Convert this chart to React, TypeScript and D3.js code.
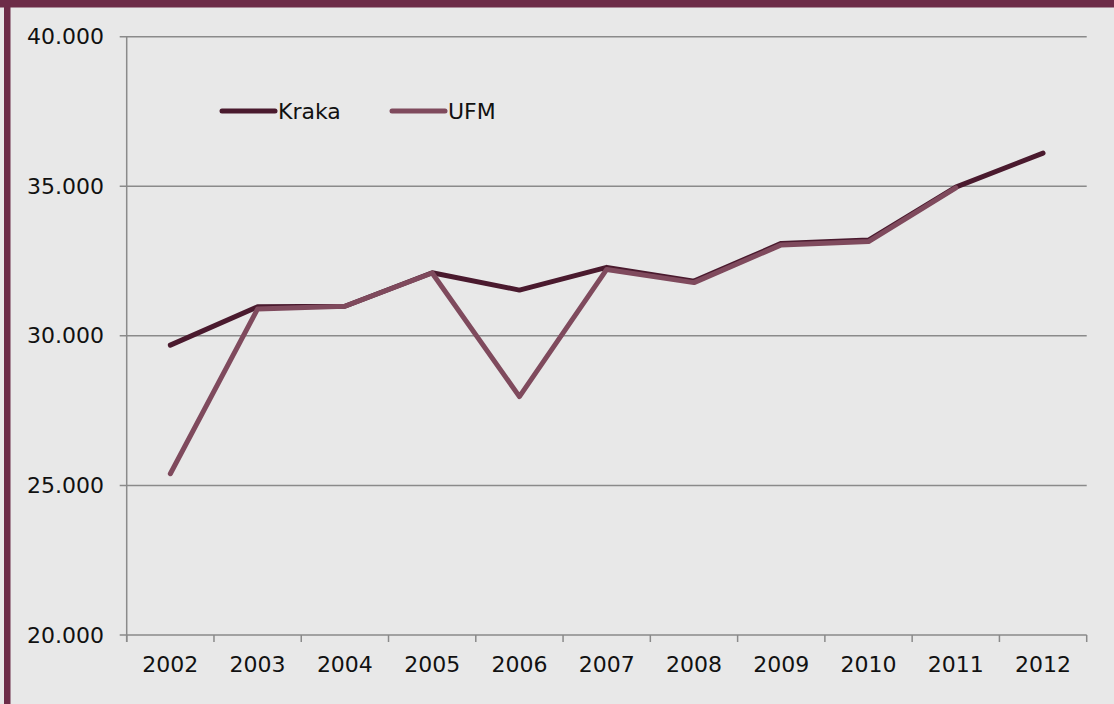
import * as d3 from 'd3';

// ── Data ──────────────────────────────────────────────────────────────────────
const YEARS = ['2002', '2003', '2004', '2005', '2006', '2007', '2008', '2009', '2010', '2011', '2012'];
const KRAKA = [29690, 30970, 30990, 32110, 31530, 32290, 31830, 33090, 33200, 34970, 36110];
const UFM   = [25390, 30900, 30990, 32100, 27970, 32220, 31780, 33040, 33150, 34950, null];
const Y_TICKS = [20000, 25000, 30000, 35000, 40000];
const SERIES_NAMES = ['Kraka', 'UFM'];

// ── Layout ────────────────────────────────────────────────────────────────────
const VW = 1114;
const VH = 704;
const PL = 126.7;
const PR = 1086.7;
const PT = 36.7;
const PB = 635;

// ── Colors ────────────────────────────────────────────────────────────────────
const BG     = '#e8e8e8';
const BORDER = '#6d2c48';
const DARK   = '#4a1a2e';
const ROSE   = '#7f4a5d';
const AXIS   = '#8a8a8a';
const FONT   = '"DejaVu Sans", Verdana, sans-serif';

const fmt = (v: number) => d3.format(',')(v).replace(/,/g, '.');

export default function App() {
  const x = d3.scaleBand<string>().domain(YEARS).range([PL, PR]).padding(0);
  const y = d3.scaleLinear().domain([20000, 40000]).range([PB, PT]);
  const cx = (yr: string) => (x(yr) ?? 0) + x.bandwidth() / 2;

  const line = d3.line<number | null>()
    .defined(d => d != null)
    .x((_, i) => cx(YEARS[i]))
    .y(d => y(d as number));

  const series = [
    { name: SERIES_NAMES[1], values: UFM,   color: ROSE },
    { name: SERIES_NAMES[0], values: KRAKA, color: DARK },
  ];

  const boundaries = [...YEARS.map(yr => x(yr) ?? 0), PR];

  return (
    <div style={{ position: 'absolute', left: 0, top: 0 }}>
      <svg width={VW} height={VH} style={{ display: 'block' }} fontFamily={FONT}>
        <rect x={0} y={0} width={VW} height={VH} fill={BG} />
        <rect x={0} y={0} width={VW} height={7.5} fill={BORDER} />
        <rect x={4} y={0} width={6.5} height={VH} fill={BORDER} />

        {/* Gridlines + y labels */}
        {Y_TICKS.map(v => (
          <g key={v}>
            <line x1={PL - 7} x2={PR} y1={y(v)} y2={y(v)} stroke={AXIS} strokeWidth={1.5} />
            <text x={104} y={y(v)} textAnchor="end" dominantBaseline="central" fontSize={22} fill="#111">
              {fmt(v)}
            </text>
          </g>
        ))}

        {/* Y axis */}
        <line x1={PL} x2={PL} y1={PT} y2={PB + 7} stroke={AXIS} strokeWidth={1.5} />

        {/* X ticks */}
        {boundaries.map((bx, i) => (
          <line key={i} x1={bx} x2={bx} y1={PB} y2={PB + 7} stroke={AXIS} strokeWidth={1.5} />
        ))}
        {YEARS.map(yr => (
          <text key={yr} x={cx(yr)} y={672} textAnchor="middle" fontSize={22} fill="#111">
            {yr}
          </text>
        ))}

        {/* Lines (Kraka drawn last, UFM partially over it where they coincide) */}
        <path d={line(KRAKA) ?? ''} fill="none" stroke={DARK} strokeWidth={5}
          strokeLinecap="round" strokeLinejoin="round" />
        <path d={line(UFM) ?? ''} fill="none" stroke={ROSE} strokeWidth={5}
          strokeLinecap="round" strokeLinejoin="round" />

        {/* Legend */}
        {series.slice().reverse().map((s, i) => {
          const lx = i === 0 ? 222 : 392;
          return (
            <g key={s.name}>
              <line x1={lx} x2={lx + 53} y1={111} y2={111} stroke={s.color} strokeWidth={5} strokeLinecap="round" />
              <text x={lx + 56} y={119} fontSize={22} fill="#111">{s.name}</text>
            </g>
          );
        })}
      </svg>
    </div>
  );
}
